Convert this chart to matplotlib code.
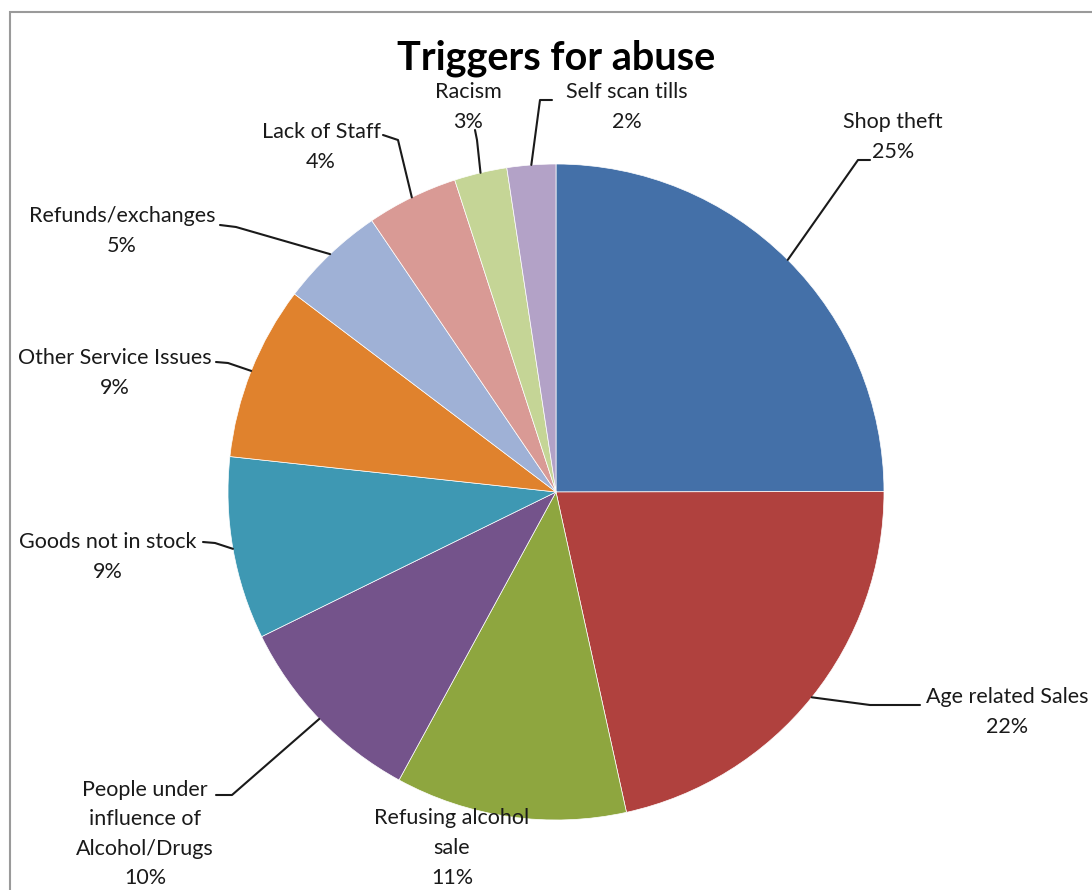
import numpy as np
import matplotlib.pyplot as plt
from matplotlib.patches import Rectangle

# ============ Dados ============
categorias = ["Shop theft", "Age related Sales", "Refusing alcohol\nsale",
              "People under\ninfluence of\nAlcohol/Drugs", "Goods not in stock",
              "Other Service Issues", "Refunds/exchanges", "Lack of Staff",
              "Racism", "Self scan tills"]
valores = [25.0, 21.6, 11.4, 9.8, 9.0, 8.6, 5.2, 4.5, 2.6, 2.4]
rotulos_pct = ["25%", "22%", "11%", "10%", "9%", "9%", "5%", "4%", "3%", "2%"]
cores = ["#4470a8", "#b0413e", "#8ea63f", "#74538b", "#3e98b3",
         "#e0822d", "#9fb1d6", "#d99a95", "#c5d596", "#b3a2c7"]

# ============ Layout (pixels) ============
W, H = 1092, 890
cx, cy, raio = 556, 492, 328
# centro do texto de cada rotulo
pos_texto = [(893, 137), (1007, 712), (452, 848), (145, 834), (108, 557),
             (115, 373), (122, 231), (321, 147), (468, 107), (627, 107)]
# pontos de inicio da linha guia (lado do rotulo), None = sem linha
guia = [[(870, 160), (858, 160)], [(920, 705), (870, 705)], None,
        [(216, 795), (232, 795)], [(203, 542), (215, 543)],
        [(216, 362), (228, 363)], [(220, 225), (236, 227)],
        [(383, 135), (398, 140)], [(475, 130), (477, 140)],
        [(552, 100), (540, 100)]]

fig = plt.figure(figsize=(W / 100, H / 100), dpi=100)
ax = fig.add_axes([0, 0, 1, 1])

def px(x, y):
    return (x - cx) / raio, (cy - y) / raio

wedges, _ = ax.pie(valores, colors=cores, startangle=90, counterclock=False,
                   radius=1, center=(0, 0), frame=True,
                   wedgeprops=dict(edgecolor='white', linewidth=0.5))
ax.set_xlim(-cx / raio, (W - cx) / raio)
ax.set_ylim(-(H - cy) / raio, cy / raio)
ax.set_aspect('equal')
ax.axis('off')

fonte = 'Lato'
for i, w in enumerate(wedges):
    tx, ty = px(*pos_texto[i])
    ax.text(tx, ty, categorias[i] + "\n" + rotulos_pct[i], ha='center', va='center',
            fontsize=15.5, family=fonte, color='#1a1a1a', linespacing=1.6)
    if guia[i] is not None:
        ang = np.deg2rad((w.theta1 + w.theta2) / 2)
        pts = [px(*p) for p in guia[i]] + [(np.cos(ang), np.sin(ang))]
        xs, ys = zip(*pts)
        ax.plot(xs, ys, color='#1a1a1a', lw=1.5, solid_capstyle='round')

fig.text(556 / W, 1 - 58 / H, "Triggers for abuse", ha='center', va='center',
         fontsize=28.5, fontweight='bold', family=fonte, color='black')

fig.patches.append(Rectangle((10 / W, -0.1), 1.2, 1 - 12 / H + 0.1,
                             transform=fig.transFigure, fill=False,
                             edgecolor='#9a9a9a', lw=1.5))

plt.savefig("out.png", dpi=100)
